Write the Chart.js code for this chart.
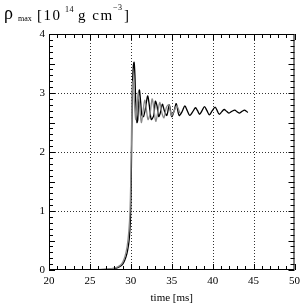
<!DOCTYPE html>
<html>
<head>
<meta charset="utf-8">
<script src="https://cdn.jsdelivr.net/npm/chart.js@4"></script>
<style>
  body { margin: 0; background: #fff; }
  canvas { display: block; }
</style>
</head>
<body>
<canvas id="myChart" width="305" height="305"></canvas>
<script>
// black curve: time [ms], rho_max [10^14 g/cm^3]
const tijdZwart = [25.0, 26.0, 27.0, 27.8, 28.4, 28.8, 29.1, 29.4, 29.6, 29.8, 29.95, 30.05, 30.12, 30.2, 30.3, 30.4, 30.5, 30.6, 30.75, 30.85,
  30.95, 31.05, 31.2, 31.35, 31.55, 31.8, 32.05, 32.25, 32.5, 32.8, 33.0, 33.2, 33.4, 33.6, 33.85, 34.1, 34.4, 34.7, 35.0, 35.3, 35.55, 35.9,
  36.25, 36.6, 36.9, 37.2, 37.55, 37.9, 38.15, 38.4, 38.7, 39.0, 39.3, 39.6, 39.95, 40.3, 40.55, 40.8, 41.1, 41.4, 41.7, 42.0,
  42.35, 42.7, 43.0, 43.3, 43.6, 43.9, 44.3];
const rhoZwart = [0.0, 0.005, 0.01, 0.02, 0.04, 0.07, 0.12, 0.22, 0.33, 0.52, 0.85, 1.5, 2.4, 3.1, 3.45, 3.52, 3.3, 2.85, 2.5, 2.55,
  2.95, 3.05, 2.85, 2.62, 2.6, 2.75, 2.95, 2.8, 2.55, 2.62, 2.86, 2.78, 2.6, 2.66, 2.81, 2.7, 2.62, 2.8, 2.6, 2.7, 2.82, 2.62,
  2.68, 2.78, 2.7, 2.62, 2.68, 2.75, 2.7, 2.64, 2.7, 2.77, 2.7, 2.63, 2.7, 2.76, 2.7, 2.64, 2.68, 2.72, 2.69, 2.66,
  2.69, 2.71, 2.68, 2.66, 2.69, 2.71, 2.67];

// grey curve
const tijdGrijs = [25.0, 26.5, 27.5, 28.2, 28.7, 29.0, 29.3, 29.55, 29.75, 29.9, 30.0, 30.08, 30.15, 30.25, 30.35, 30.45, 30.6, 30.75,
  30.9, 31.0, 31.15, 31.3, 31.5, 31.7, 31.9, 32.1, 32.35, 32.6, 32.8, 33.05, 33.3, 33.55, 33.8, 34.05, 34.35, 34.65, 34.95, 35.25, 35.6, 36.0];
const rhoGrijs = [0.0, 0.01, 0.02, 0.04, 0.08, 0.13, 0.24, 0.4, 0.65, 1.0, 1.6, 2.3, 2.9, 3.2, 3.1, 2.8, 2.55, 2.75,
  3.0, 2.9, 2.65, 2.5, 2.7, 2.88, 2.72, 2.55, 2.65, 2.9, 2.75, 2.52, 2.68, 2.84, 2.66, 2.58, 2.76, 2.8, 2.62, 2.68, 2.78, 2.66];

const xTicks = [20, 25, 30, 35, 40, 45, 50];
const yTicks = [0, 1, 2, 3, 4];

const serif = "'Liberation Serif', 'DejaVu Serif', serif";

function punten(xs, ys) {
  return xs.map((x, i) => ({ x: x, y: ys[i] }));
}

// dotted grid before the lines
const raster = {
  id: 'raster',
  beforeDatasetsDraw(chart) {
    const c = chart.ctx;
    const a = chart.chartArea;
    const sx = chart.scales.x, sy = chart.scales.y;
    c.save();
    c.strokeStyle = '#333';
    c.lineWidth = 1;
    c.setLineDash([1, 2]);
    c.beginPath();
    xTicks.slice(1, -1).forEach(t => {
      const px = Math.round(sx.getPixelForValue(t)) + 0.5;
      c.moveTo(px, a.top); c.lineTo(px, a.bottom);
    });
    yTicks.slice(1, -1).forEach(v => {
      const py = Math.round(sy.getPixelForValue(v)) + 0.5;
      c.moveTo(a.left, py); c.lineTo(a.right, py);
    });
    c.stroke();
    c.restore();
  }
};

// inward ticks + frame + y label
const kader = {
  id: 'kader',
  afterDraw(chart) {
    const c = chart.ctx;
    const a = chart.chartArea;
    const sx = chart.scales.x, sy = chart.scales.y;
    c.save();
    c.strokeStyle = '#000';
    c.lineWidth = 1;
    c.strokeRect(a.left + 0.5, a.top + 0.5, a.right - a.left - 1, a.bottom - a.top - 1);
    c.beginPath();
    for (let t = 20; t <= 50; t++) {
      const px = Math.round(sx.getPixelForValue(t)) + 0.5;
      const l = (t % 5 === 0) ? 6 : 4;
      c.moveTo(px, a.bottom); c.lineTo(px, a.bottom - l);
      c.moveTo(px, a.top); c.lineTo(px, a.top + l);
    }
    for (let k = 0; k <= 40; k++) {
      const py = Math.round(sy.getPixelForValue(k / 10)) + 0.5;
      const l = (k % 5 === 0) ? 6 : 4;
      c.moveTo(a.left, py); c.lineTo(a.left + l, py);
      c.moveTo(a.right, py); c.lineTo(a.right - l, py);
    }
    c.stroke();

    c.fillStyle = '#000';
    c.textBaseline = 'alphabetic';
    c.font = '18px ' + serif;
    c.fillText('\u03C1', 4, 19);
    c.font = '8px ' + serif;
    c.fillText('max', 18, 21);
    c.letterSpacing = '1.5px';
    c.font = '15px ' + serif;
    c.fillText('[10', 37, 20);
    c.font = '15px ' + serif;
    c.fillText('g cm', 78, 20);
    c.letterSpacing = '0.5px';
    c.font = '8px ' + serif;
    c.fillText('14', 65, 12);
    c.fillText('\u22123', 113, 10);
    c.font = '15px ' + serif;
    c.fillText(']', 124, 20);
    c.restore();
  }
};

const ctx = document.getElementById('myChart');

new Chart(ctx, {
  type: 'line',
  data: {
    datasets: [{
      label: 'grijs',
      data: punten(tijdGrijs, rhoGrijs),
      borderColor: '#8a8a8a',
      borderWidth: 1.3,
      pointRadius: 0,
      tension: 0.3,
      order: 1
    }, {
      label: 'zwart',
      data: punten(tijdZwart, rhoZwart),
      borderColor: '#000',
      borderWidth: 1.3,
      pointRadius: 0,
      tension: 0.3,
      order: 2
    }]
  },
  options: {
    responsive: false,
    animation: false,
    layout: { padding: { top: 34, right: 8, left: 0, bottom: 0 } },
    plugins: { legend: { display: false }, tooltip: { enabled: false } },
    scales: {
      x: {
        type: 'linear',
        min: 20, max: 50,
        afterBuildTicks: s => { s.ticks = xTicks.map(v => ({ value: v })); },
        afterFit: s => { s.height = 35; },
        ticks: { color: '#000', font: { family: serif, size: 11 }, padding: 5, maxRotation: 0 },
        grid: { display: false, drawTicks: false },
        border: { display: false },
        title: { display: true, text: 'time [ms]', color: '#000', font: { family: serif, size: 11 }, padding: { top: 0, bottom: 0 } }
      },
      y: {
        min: 0, max: 4,
        afterBuildTicks: s => { s.ticks = yTicks.map(v => ({ value: v })); },
        afterFit: s => { s.width = 49; },
        ticks: { color: '#000', font: { family: serif, size: 11 }, padding: 4 },
        grid: { display: false, drawTicks: false },
        border: { display: false }
      }
    }
  },
  plugins: [raster, kader]
});
</script>
</body>
</html>
